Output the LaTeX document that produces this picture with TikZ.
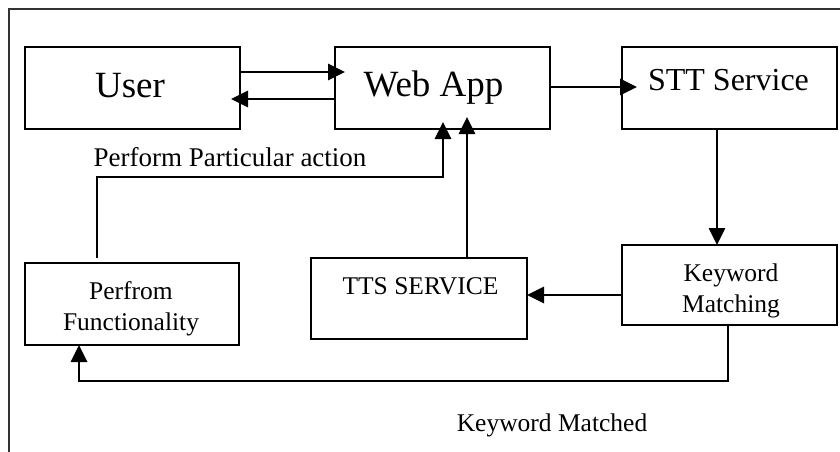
\documentclass[tikz,border=0pt]{standalone}
\usepackage{fontspec}
\setmainfont{Liberation Serif}
\usetikzlibrary{arrows.meta}
\begin{document}
\begin{tikzpicture}[x=1pt,y=-1pt,
  box/.style={draw=black,line width=1.4pt,rectangle,inner sep=0pt,outer sep=0pt},
  arr/.style={draw=black,line width=1.4pt,-{Triangle[length=17pt,width=16.5pt]}},
  big/.style={inner sep=0pt,anchor=base,font=\fontsize{37}{44}\selectfont},
  mid/.style={inner sep=0pt,anchor=base,font=\fontsize{32}{38}\selectfont},
  sml/.style={inner sep=0pt,anchor=base,font=\fontsize{25.5}{31}\selectfont},
  lbl/.style={inner sep=0pt,anchor=base,font=\fontsize{27}{32}\selectfont}]
\useasboundingbox (0,0) rectangle (840,452);
% frame
\draw[line width=1.4pt,black!80] (9,452) -- (9,9) -- (840,9);
% boxes
\node[box,minimum width=215pt,minimum height=82pt] (user) at (132.5,88) {};
\node[box,minimum width=215pt,minimum height=82pt] (web) at (442.5,88) {};
\node[box,minimum width=215pt,minimum height=82pt] (stt) at (729.5,88) {};
\node[box,minimum width=215pt,minimum height=80pt] (kw) at (729.5,285) {};
\node[box,minimum width=216pt,minimum height=81pt] (tts) at (419,298.5) {};
\node[box,minimum width=214pt,minimum height=82pt] (pf) at (132,304) {};
% texts
\node[big] (usert) at (130,97) {User};
\node[big] (webt) at (433.5,96) {Web App};
\node[mid] (sttt) at (728.5,90) {STT Service};
\node[sml] (ttst) at (420.5,294) {TTS SERVICE};
\node[sml] (kwt1) at (731,281) {Keyword};
\node[sml] (kwt2) at (731,312) {Matching};
\node[sml] (pft1) at (131,299) {Perfrom};
\node[sml] (pft2) at (131,330) {Functionality};
\node[lbl] (ppa) at (230,166) {Perform Particular action};
\node[sml] (kwm) at (552,431) {Keyword Matched};
% connectors
\draw[arr,shorten >=-10pt] ([yshift=16pt]user.east) -- ([yshift=16pt]web.west);
\draw[arr,shorten >=-9pt] ([yshift=-11pt]web.west) -- ([yshift=-11pt]user.east);
\draw[arr,shorten >=-15pt] ([yshift=1pt]web.east) -- ([yshift=1pt]stt.west);
\draw[arr] ([xshift=-12.5pt]stt.south) -- ([xshift=-12.5pt]kw.north);
\draw[arr] ([yshift=-10pt]kw.west) -- ([yshift=3.5pt]tts.east);
\draw[arr,shorten >=-12pt] ([xshift=48pt]tts.north) -- ([xshift=24.5pt]web.south);
\coordinate (pfa) at (443,177);
\draw[arr,shorten >=-7pt] ([xshift=-35pt,yshift=5pt]pf.north) |- (pfa) -- ([xshift=0.5pt]web.south);
\coordinate (kwb) at (79,381);
\draw[arr] ([xshift=-1.5pt]kw.south) |- (kwb) -- ([xshift=-53pt]pf.south);
\end{tikzpicture}
\end{document}
